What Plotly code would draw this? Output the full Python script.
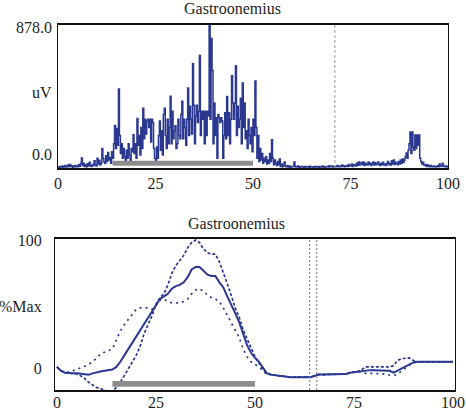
import plotly.graph_objects as go

# ---------------- data ----------------
# Raw EMG (uV), sampled every 0.25 % of cycle, 0..100
emg_uv = [
    8, 5, 10, 6,   12, 4, 9, 15,   6, 10, 18, 7,   22, 9, 14, 5,
    10, 16, 7, 12,   8, 20, 11, 28,   62, 15, 30, 10,   20, 8, 26, 12,
    35, 14, 9, 22,   15, 45, 20, 12,   60, 25, 48, 18,   30, 120, 60, 38,
    28, 75, 40, 95,   50, 65, 30, 100,   60, 150, 262, 120,   243, 140, 486, 200,
    90, 150, 60, 120,   70, 40, 110, 60,   150, 80, 40, 120,   100, 205, 90, 150,
    60, 305, 140, 200,   80, 250, 120, 368,   180, 300, 210, 290,   300, 250, 300, 160,
    300, 280, 120, 60,   40, 130, 60, 200,   290, 110, 230, 80,   330, 368, 200, 120,
    300, 150, 250, 442,   150, 350, 180, 230,   260, 120, 150, 300,   200, 180, 330, 411,
    180, 300, 250, 140,   300, 492, 200, 380,   300, 210, 642, 386,   150, 320, 386, 280,
    350, 692, 200, 350,   300, 350, 150, 350,   200, 350, 320, 878,   300, 797, 600, 150,
    400, 200, 310, 60,   330, 310, 280, 310,   290, 60, 200, 340,   180, 440, 200, 340,
    150, 300, 567, 400,   300, 400, 629, 200,   380, 250, 300, 430,   150, 523, 250, 400,
    180, 230, 120, 300,   200, 150, 250, 100,   300, 200, 536, 250,   60, 200, 40, 120,
    50, 90, 30, 60,   40, 70, 25, 50,   30, 90, 40, 174,   60, 20, 50, 30,
    15, 40, 20, 55,   10, 25, 8, 15,   37, 10, 8, 14,   6, 12, 5, 9,
    10, 8, 37, 10,   6, 9, 12, 5,   8, 6, 10, 7,   5, 9, 6, 8,
    7, 5, 11, 6,   8, 6, 5, 9,   6, 10, 7, 5,   9, 6, 8, 12,
    5, 8, 6, 9,   10, 6, 14, 7,   8, 12, 6, 10,   7, 9, 15, 8,
    12, 8, 10, 18,   9, 14, 7, 11,   16, 10, 22, 12,   14, 25, 10, 18,
    20, 12, 30, 15,   37, 18, 28, 35,   20, 37, 15, 30,   25, 18, 37, 22,
    30, 15, 28, 37,   18, 33, 20, 25,   37, 22, 15, 30,   20, 35, 18, 25,
    15, 28, 40, 20,   30, 18, 45, 25,   49, 22, 35, 30,   20, 40, 25, 49,
    30, 55, 35, 49,   70, 92, 60, 110,   150, 221, 90, 221,   130, 110, 203, 120,
    203, 140, 203, 60,   40, 25, 35, 18,   15, 22, 10, 18,   12, 8, 16, 10,
    7, 12, 9, 6,   10, 14, 8, 25,   12, 9, 30, 15,   10, 8, 12, 6,
    8,
]
emg_step = 0.25
emg_x = [i * emg_step for i in range(len(emg_uv))]

# Normalised envelope (%Max) at every 1 % of cycle
pct_x = list(range(101))
mean_pct = [
    1, -2, -3.5, -4, -4, -4, -4.5, -5, -5, -4,
    -3, -2.5, -2, -1.5, -1, 1, 5, 10, 15, 20,
    25, 30, 35, 39, 45, 50, 54, 56, 58, 62,
    64, 65, 67, 71, 77, 79, 79, 76, 73, 72,
    72, 67, 63, 56, 50, 43, 36, 27, 18, 12,
    8, 5, 0, -4, -5, -5.5, -6, -6, -6.5, -7,
    -7, -7, -7, -7, -7, -6, -5, -5, -5, -5,
    -5, -5, -5, -4.5, -3.5, -3, -2.5, -2, -1.5, -1.5,
    -1.5, -1.5, -1.5, -1.5, -2, -3.5, -2, -0.5, 1.5, 3,
    4.5, 5, 5, 5, 5, 5, 5, 5, 5, 5,
    5,
]
trial_a = [
    1, -2, -3.5, -4, -4, -4.5, -6, -8, -11, -13,
    -15, -16, -17, -18, -18, -15, -11, -6, -1, 4,
    10, 17, 27, 34, 41, 50, 55, 58, 65, 74,
    80, 84, 88, 94, 98, 100, 98, 93, 90, 89,
    89, 83, 75, 66, 57, 47, 40, 30, 23, 16,
    9, 4, -1, -4, -5, -5.5, -6, -6, -6.5, -7,
    -7, -7, -7, -7, -7, -6, -5, -5, -5, -5,
    -5, -5, -5, -4.5, -3.5, -3, -2.5, -1, 1, 1,
    1, 1, 1, 1, 1, 2, 6, 7.5, 8, 8,
    6, 5, 5, 5, 5, 5, 5, 5, 5, 5,
    5,
]
trial_b = [
    1, -2, -3.5, -3, -2, -1, 0, 1.5, 3, 5,
    8, 11, 12.5, 13.5, 15, 22, 29, 34, 38, 42,
    46, 47, 47, 47, 46, 49, 53, 54, 52, 51,
    51, 51, 52, 54, 58, 61, 62, 60, 57, 55,
    54, 52, 47, 41, 35, 29, 24, 15, 9, 5,
    3, 1, -2, -5, -5, -5.5, -6, -6, -6.5, -7,
    -7, -7, -7, -7, -7, -6, -5, -5, -5, -5,
    -5, -5, -5, -4.5, -3.5, -3, -2.5, -3, -4, -4,
    -4, -4, -4, -4.5, -5.5, -5.8, -4.5, -2, 0.5, 2.5,
    4, 5, 5, 5, 5, 5, 5, 5, 5, 5,
    5,
]

x_ticks = [0, 25, 50, 75, 100]
stance_bar = [14, 50]          # grey bar (start, end) in % cycle
top_marker = 71                # dashed line in raw panel
bottom_markers = [63.8, 65.6]  # dotted lines in envelope panel
title_text = "Gastroonemius"
top_y_labels = ["878.0", "uV", "0.0"]

# ---------------- figure ----------------
W, H = 466, 412
BLUE = "#2a3890"
FONT = "Liberation Serif"
TXT = "#1e1e1e"
FS = 16

def px_x(p):
    return p / W

def px_y(p):
    return 1 - p / H

fig = go.Figure()

fig.add_trace(go.Scatter(x=emg_x, y=emg_uv, mode="lines", line_shape="hv",
                         line=dict(color=BLUE, width=1.5),
                         xaxis="x", yaxis="y", showlegend=False, hoverinfo="skip"))

fig.add_trace(go.Scatter(x=pct_x, y=trial_a, mode="lines",
                         line=dict(color=BLUE, width=1.7, dash="3px,2px"),
                         xaxis="x2", yaxis="y2", showlegend=False))
fig.add_trace(go.Scatter(x=pct_x, y=trial_b, mode="lines",
                         line=dict(color=BLUE, width=1.7, dash="2px,4px"),
                         xaxis="x2", yaxis="y2", showlegend=False))
fig.add_trace(go.Scatter(x=pct_x, y=mean_pct, mode="lines",
                         line=dict(color=BLUE, width=2),
                         xaxis="x2", yaxis="y2", showlegend=False))

axis_common = dict(showgrid=False, zeroline=False, ticks="", showline=True,
                   mirror=True, linecolor="#111111",
                   tickfont=dict(family=FONT, size=FS, color=TXT))

fig.update_layout(
    width=W, height=H,
    margin=dict(l=0, r=0, t=0, b=0, autoexpand=False),
    paper_bgcolor="white", plot_bgcolor="white",
    xaxis=dict(domain=[px_x(58), px_x(448)], range=[0, 100], anchor="y",
               tickvals=x_ticks, ticklabelstandoff=0, linewidth=2.2, **axis_common),
    yaxis=dict(domain=[px_y(168), px_y(25)], range=[0, 880], anchor="x",
               showticklabels=False, linewidth=1.2, **axis_common),
    xaxis2=dict(domain=[px_x(55), px_x(455)], range=[-0.5, 100.5], anchor="y2",
                tickvals=x_ticks, ticklabelstandoff=-3, linewidth=2.2, **axis_common),
    yaxis2=dict(domain=[px_y(390), px_y(239)], range=[-17, 100.8], anchor="x2",
                tickvals=[0, 48.5, 100], ticktext=["0", "%Max", "100"],
                ticklabelstandoff=9, linewidth=1.2, **axis_common),
)

shapes = [
    # raw panel: stance bar and event line
    dict(type="rect", xref="x", yref="y", x0=stance_bar[0], x1=stance_bar[1],
         y0=14, y1=44, fillcolor="#8c8c8c", line=dict(width=0), layer="above"),
    dict(type="line", xref="x", yref="y domain", x0=top_marker, x1=top_marker,
         y0=0, y1=1, line=dict(color="#9a9a9a", width=1, dash="3px,2px")),
    # envelope panel
    dict(type="rect", xref="x2", yref="y2", x0=stance_bar[0], x1=stance_bar[1],
         y0=-14.5, y1=-10, fillcolor="#8c8c8c", line=dict(width=0), layer="above"),
]
for m in bottom_markers:
    shapes.append(dict(type="line", xref="x2", yref="y2 domain", x0=m, x1=m, y0=0, y1=1,
                       line=dict(color="#777777", width=1, dash="2px,2px")))
fig.update_layout(shapes=shapes)

ann = [
    dict(text=title_text, x=px_x(232), y=px_y(9), xref="paper", yref="paper",
         showarrow=False, xanchor="center", yanchor="middle",
         font=dict(family=FONT, size=FS, color=TXT)),
    dict(text=title_text, x=px_x(237), y=px_y(223), xref="paper", yref="paper",
         showarrow=False, xanchor="center", yanchor="middle",
         font=dict(family=FONT, size=FS, color=TXT)),
]
for txt, yp in zip(top_y_labels, [28, 92, 154]):
    ann.append(dict(text=txt, x=px_x(54), y=px_y(yp), xref="paper", yref="paper",
                    showarrow=False, xanchor="right", yanchor="middle",
                    font=dict(family=FONT, size=FS, color=TXT)))
fig.update_layout(annotations=ann)

fig.write_html("out.html")
